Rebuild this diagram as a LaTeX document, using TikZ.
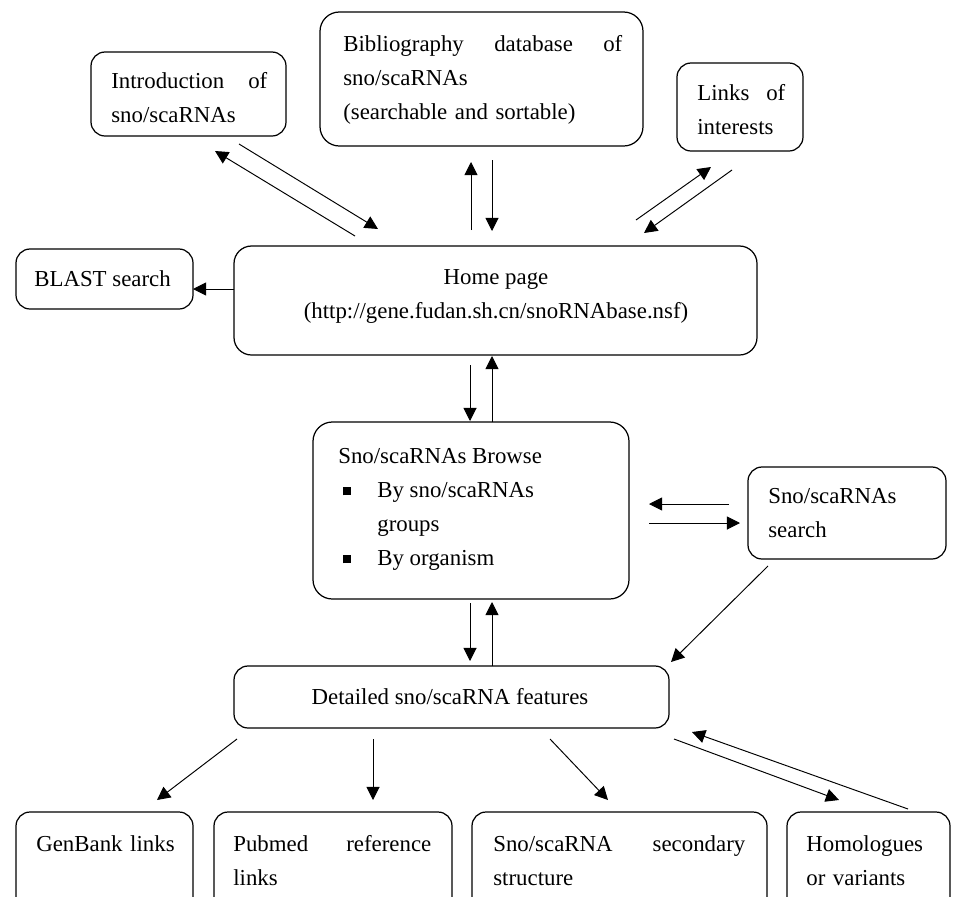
\documentclass[tikz,border=0pt]{standalone}
\usepackage{fontspec}
\setmainfont{Liberation Serif}
\usetikzlibrary{arrows.meta,fit}
\newcommand{\sqbul}{\makebox[0.78cm][l]{\hspace{0.1cm}\rule[1pt]{4.5pt}{4.5pt}}}
\begin{document}
\begin{tikzpicture}[x=0.02cm,y=-0.02cm,
  box/.style={draw, line width=0.7pt, rounded corners=8pt, inner sep=0pt},
  bigbox/.style={box, rounded corners=11pt},
  txt/.style={font=\fontsize{13}{19.35}\selectfont, align=left, inner sep=0pt, anchor=west},
  ctxt/.style={font=\fontsize{13}{19.35}\selectfont, align=center, inner sep=0pt},
  btxt/.style={font=\fontsize{13}{19.35}\selectfont, align=left, inner sep=0pt, anchor=base west},
  arr/.style={line width=0.55pt, -{Triangle[length=7.5pt,width=7.5pt]}}]
\useasboundingbox (0,0) rectangle (953,896);
\fill[white] (0,0) rectangle (953,896);
\clip (0,0) rectangle (953,896);

% boxes
\node[box, fit={(91,52) (286,136)}] (intro) {};
\node[bigbox, fit={(320,12) (643,146)}] (bib) {};
\node[box, fit={(677,63) (803,151)}] (links) {};
\node[box, fit={(16,249) (193,309)}] (blast) {};
\node[box, rounded corners=10pt, fit={(234,246) (757,355)}] (home) {};
\node[bigbox, fit={(313,422) (629,599)}] (browse) {};
\node[box, fit={(748,467) (946,559)}] (search) {};
\node[box, fit={(234,666) (669,728)}] (detailed) {};
\node[box, fit={(16,812) (193,930)}] (genbank) {};
\node[box, fit={(214,812) (452,930)}] (pubmed) {};
\node[box, fit={(472,812) (767,930)}] (secondary) {};
\node[box, fit={(787,812) (950,930)}] (homol) {};

% texts
\node[txt, text width=3.12cm] (introT) at (111,98) {Introduction\hfill of\\sno/scaRNAs};
\node[txt, text width=5.58cm] (bibT) at (343,80) {Bibliography\hfill database\hfill of\\sno/scaRNAs\\(searchable and sortable)};
\node[txt, text width=1.76cm] (linksT) at (697,110) {Links\hfill of\\interests};
\node[txt] (blastT) at (34,279) {BLAST search};
\node[ctxt] (homeT) at (496,296) {Home page\\(http://gene.fudan.sh.cn/snoRNAbase.nsf)};
\node[txt] (browseT) at (338,509) {Sno/scaRNAs Browse\\\sqbul By sno/scaRNAs\\\hspace*{0.78cm}groups\\\sqbul By organism};
\node[txt] (searchT) at (768,513) {Sno/scaRNAs\\search};
\node[ctxt] (detailedT) at (450,697) {Detailed sno/scaRNA features};
\node[btxt, text width=3.2cm] (genbankT) at (36,851) {GenBank links};
\node[btxt, text width=3.96cm] (pubmedT) at (233,851) {Pubmed\hfill reference\\links};
\node[btxt, text width=5.04cm] (secondaryT) at (493,851) {Sno/scaRNA\hfill secondary\\structure};
\node[btxt, text width=2.8cm] (homolT) at (806,851) {Homologues\\or variants};

% connector end points
\coordinate (c1a) at (355,236); \coordinate (c1b) at (215,151);
\coordinate (c2a) at (239,144); \coordinate (c2b) at (378,229);
\coordinate (c3a) at (471,230); \coordinate (c3b) at (471,162);
\coordinate (c4a) at (492,160); \coordinate (c4b) at (492,231);
\coordinate (c5a) at (636,220); \coordinate (c5b) at (711,167);
\coordinate (c6a) at (732,170); \coordinate (c6b) at (644,233);
\coordinate (c7a) at (234,289); \coordinate (c7b) at (193,289);
\coordinate (c8a) at (470,365); \coordinate (c8b) at (470,421);
\coordinate (c9a) at (492,422); \coordinate (c9b) at (492,356);
\coordinate (c10a) at (729,504); \coordinate (c10b) at (649,504);
\coordinate (c11a) at (649,523); \coordinate (c11b) at (740,523);
\coordinate (c12a) at (768,566); \coordinate (c12b) at (671,662);
\coordinate (c13a) at (470,603); \coordinate (c13b) at (470,661);
\coordinate (c14a) at (492,666); \coordinate (c14b) at (492,602);
\coordinate (c15a) at (237,739); \coordinate (c15b) at (157,800);
\coordinate (c16a) at (373,739); \coordinate (c16b) at (373,800);
\coordinate (c17a) at (550,739); \coordinate (c17b) at (608,800);
\coordinate (c18a) at (674,739); \coordinate (c18b) at (839,800);
\coordinate (c19a) at (908,809); \coordinate (c19b) at (692,732);

\draw[arr] (c1a) -- (c1b);
\draw[arr] (c2a) -- (c2b);
\draw[arr] (c3a) -- (c3b);
\draw[arr] (c4a) -- (c4b);
\draw[arr] (c5a) -- (c5b);
\draw[arr] (c6a) -- (c6b);
\draw[arr] (c7a) -- (c7b);
\draw[arr] (c8a) -- (c8b);
\draw[arr] (c9a) -- (c9b);
\draw[arr] (c10a) -- (c10b);
\draw[arr] (c11a) -- (c11b);
\draw[arr] (c12a) -- (c12b);
\draw[arr] (c13a) -- (c13b);
\draw[arr] (c14a) -- (c14b);
\draw[arr] (c15a) -- (c15b);
\draw[arr] (c16a) -- (c16b);
\draw[arr] (c17a) -- (c17b);
\draw[arr] (c18a) -- (c18b);
\draw[arr] (c19a) -- (c19b);
\end{tikzpicture}
\end{document}
